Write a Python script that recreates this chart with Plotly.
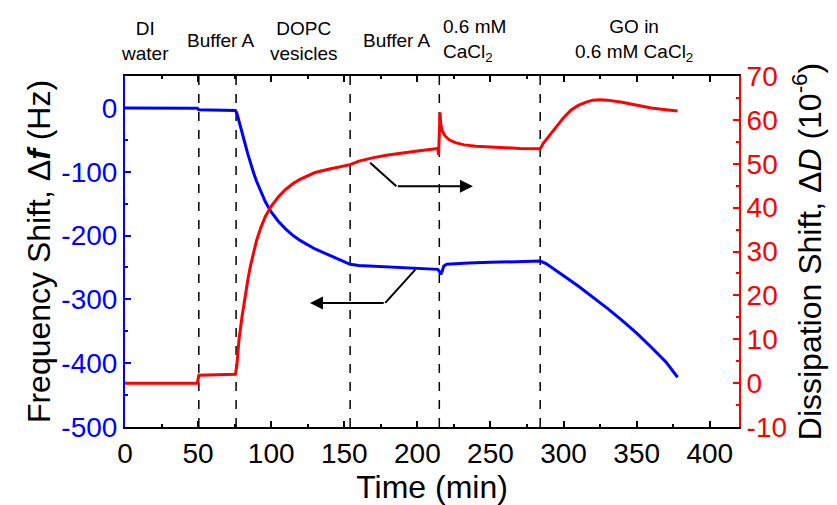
import plotly.graph_objects as go

# ---------------- data ----------------
time_f = [0, 10, 20, 30, 40, 49.5, 50.5, 60, 70, 75.5, 76.5, 78, 80, 82, 84, 86, 88, 90, 93, 96,
          100, 105, 110, 115, 120, 125, 130, 135, 140, 145, 150, 154, 160, 170, 180, 190, 200,
          210, 214, 215, 216, 217, 218, 220, 225, 235, 250, 265, 275, 284, 288, 292, 296, 300,
          310, 320, 330, 340, 350, 360, 370, 378]
freq_shift = [0, 0, 0, 0, 0, -0.5, -3, -3.5, -4, -4, -8, -20, -35, -55, -72, -88, -102, -115, -132, -147,
              -163, -178, -190, -200, -208, -215, -221, -226, -231, -235, -240, -245, -247, -248, -249, -250, -251,
              -252, -253, -256, -261, -256, -248, -245, -244, -243, -242, -241, -240.5, -240, -244, -250, -256, -263,
              -279, -296, -314, -333, -353, -375, -398, -422]

time_d = [0, 10, 20, 30, 40, 49.5, 50.5, 60, 70, 75.5, 76.5, 78, 80, 82, 84, 86, 88, 90, 93, 96,
          100, 105, 110, 115, 120, 125, 130, 140, 150, 154, 160, 170, 180, 190, 200, 210, 214,
          214.5, 215, 215.5, 216, 217, 219, 222, 226, 232, 240, 250, 260, 270, 284, 286, 290, 295,
          300, 305, 310, 315, 320, 325, 330, 340, 350, 360, 370, 378]
diss_shift = [0, 0, 0, 0, 0, 0, 1.8, 1.9, 2, 2, 4, 10, 15, 19.5, 23.5, 27, 30, 32.5, 35.5, 38,
              40.3, 42.5, 44.2, 45.5, 46.5, 47.3, 48, 48.8, 49.4, 49.8, 50.6, 51.4, 52, 52.5, 52.9, 53.3, 53.5,
              52, 58, 61.7, 59, 57.5, 56.3, 55.4, 54.8, 54.3, 54, 53.8, 53.6, 53.5, 53.4, 54.6, 56.3, 58.5,
              60.5, 62.2, 63.3, 64, 64.5, 64.6, 64.5, 64, 63.3, 62.7, 62.3, 62]

stage_change_times = [50.5, 76, 154, 215, 284]
stage_labels = ["DI<br>water", "Buffer A", "DOPC<br>vesicles", "Buffer A",
                "0.6 mM<br>CaCl<sub>2</sub>", "GO in<br>0.6 mM CaCl<sub>2</sub>"]
stage_label_x = [14, 66, 122.5, 186, 216, 348.5]

x_ticks = [0, 50, 100, 150, 200, 250, 300, 350, 400]
f_ticks = [-500, -400, -300, -200, -100, 0]
d_ticks = [-10, 0, 10, 20, 30, 40, 50, 60, 70]

FONT = "Liberation Sans, Arial, sans-serif"
BLUE = "#0000FF"
RED = "#FF0000"

fig = go.Figure()
fig.add_trace(go.Scatter(x=time_f, y=freq_shift, mode="lines",
                         line=dict(color=BLUE, width=3), yaxis="y", showlegend=False))
fig.add_trace(go.Scatter(x=time_d, y=diss_shift, mode="lines",
                         line=dict(color=RED, width=3), yaxis="y2", showlegend=False))

# dashed stage separators
for t in stage_change_times:
    fig.add_shape(type="line", x0=t, x1=t, xref="x", y0=0, y1=1, yref="paper",
                  line=dict(color="black", width=1.5, dash="dash"), layer="below")

# stage labels
for txt, xv in zip(stage_labels, stage_label_x):
    left = txt.startswith("0.6")
    fig.add_annotation(x=xv, y=1.10, xref="x", yref="paper", text=txt, showarrow=False,
                       xanchor="left" if left else "center", yanchor="middle",
                       align="left" if left else "center",
                       font=dict(family=FONT, size=19, color="black"))

# arrows pointing to axes
fig.add_shape(type="line", x0=167.7, y0=-86, x1=185.6, y1=-122.7, xref="x", yref="y",
              line=dict(color="black", width=2))
fig.add_annotation(x=238, y=-122.7, ax=185.6, ay=-122.7, xref="x", yref="y", axref="x", ayref="y",
                   text="", showarrow=True, arrowhead=2, arrowsize=1.3, arrowwidth=2, arrowcolor="black")
fig.add_shape(type="line", x0=198.6, y0=-253.4, x1=178, y1=-305.6, xref="x", yref="y",
              line=dict(color="black", width=2))
fig.add_annotation(x=126.5, y=-305.6, ax=178, ay=-305.6, xref="x", yref="y", axref="x", ayref="y",
                   text="", showarrow=True, arrowhead=2, arrowsize=1.3, arrowwidth=2, arrowcolor="black")

fig.update_layout(
    width=837, height=505,
    margin=dict(l=117, r=106, t=68, b=86),
    paper_bgcolor="white", plot_bgcolor="white",
    font=dict(family=FONT, color="black"),
    showlegend=False,
    xaxis=dict(range=[0, 420], tickvals=x_ticks, ticktext=[str(v) for v in x_ticks],
               ticks="inside", ticklen=6, tickwidth=2,
               tickcolor="black", showline=True, linecolor="black", linewidth=2, mirror="ticks",
               showgrid=False, zeroline=False,
               minor=dict(dtick=25, tick0=0, ticks="inside", ticklen=3, tickwidth=2, tickcolor="black"),
               tickfont=dict(family=FONT, size=28, color="black"),
               title=dict(text="Time (min)", font=dict(family=FONT, size=32, color="black"), standoff=8)),
    yaxis=dict(range=[-500, 50], tickvals=f_ticks, ticktext=[str(v) for v in f_ticks],
               ticks="inside", ticklen=6, tickwidth=2,
               tickcolor=BLUE, showline=True, linecolor=BLUE, linewidth=2,
               showgrid=False, zeroline=False,
               minor=dict(dtick=50, tick0=0, ticks="inside", ticklen=3, tickwidth=2, tickcolor=BLUE),
               tickfont=dict(family=FONT, size=28, color=BLUE),
               title=dict(text="Frequency Shift, \u0394<b><i>f</i></b> (Hz)",
                          font=dict(family=FONT, size=32, color="black"), standoff=1)),
    yaxis2=dict(range=[-10, 70], tickvals=d_ticks, ticktext=[str(v) for v in d_ticks],
                ticks="inside", ticklen=6, tickwidth=2,
                tickcolor=RED, showline=True, linecolor=RED, linewidth=2,
                overlaying="y", side="right", anchor="x",
                showgrid=False, zeroline=False,
                minor=dict(dtick=5, tick0=0, ticks="inside", ticklen=3, tickwidth=2, tickcolor=RED),
                tickfont=dict(family=FONT, size=28, color=RED),
                title=dict(text="Dissipation Shift, \u0394<i>D</i> (10<sup>-6</sup>)",
                           font=dict(family=FONT, size=32, color="black"), standoff=5)),
)

fig.write_html("out.html")
